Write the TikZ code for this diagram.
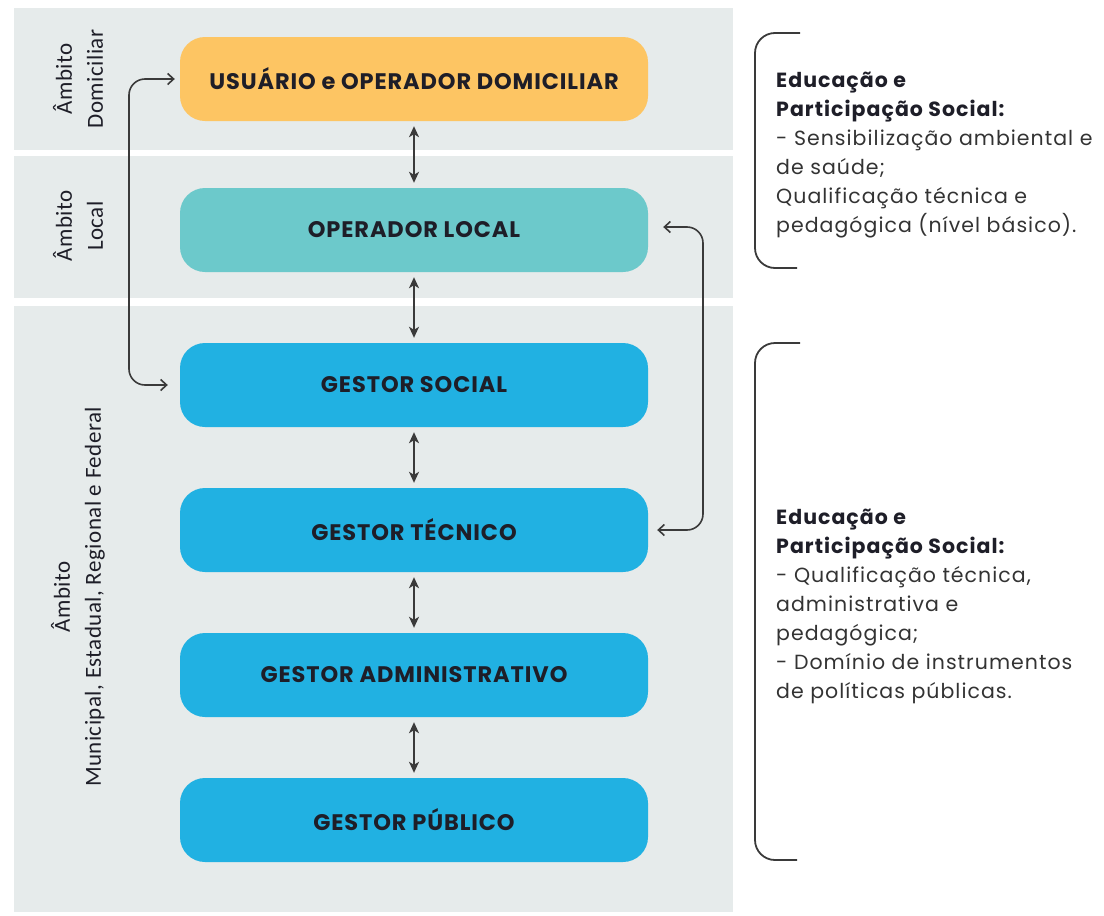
\documentclass[tikz,border=0pt]{standalone}
\usepackage{fontspec}
\setmainfont{Poppins}
\newfontfamily\boxfont[LetterSpace=4]{Poppins}
\newfontfamily\notefont[LetterSpace=5]{Poppins}
\newfontfamily\sidefont[LetterSpace=2]{Carlito}
\usetikzlibrary{arrows.meta,calc}
\definecolor{panel}{HTML}{E6EBEB}
\definecolor{orangebox}{HTML}{FDC563}
\definecolor{tealbox}{HTML}{6CC9CB}
\definecolor{bluebox}{HTML}{21B1E2}
\definecolor{ink}{HTML}{1E1E28}
\definecolor{linec}{HTML}{3A3A3A}
\definecolor{txt}{HTML}{333333}
\tikzset{
  box/.style={rounded corners=25pt, minimum width=468pt, minimum height=84pt, inner sep=0pt,
    font=\boxfont\fontsize{22.5}{26}\selectfont\bfseries, text=ink},
  vlink/.style={draw=linec, line width=1.6pt, {Stealth[length=11pt,width=10pt,inset=3pt]}-{Stealth[length=11pt,width=10pt,inset=3pt]}, shorten <=5pt, shorten >=5pt},
  sidelink/.style={draw=linec, line width=1.6pt, rounded corners=16pt, {Straight Barb[length=6pt,width=11pt]}-{Straight Barb[length=6pt,width=11pt]}},
  brack/.style={draw=linec, line width=1.8pt, rounded corners=20pt},
  sidelabel/.style={rotate=90, align=center, font=\sidefont\fontsize{23}{31}\selectfont, text=ink},
  note/.style={anchor=north west, align=left, inner sep=0pt, text=txt, font=\notefont\fontsize{20.5}{29}\selectfont}
}
\begin{document}
\begin{tikzpicture}[x=1pt,y=-1pt]
\useasboundingbox (0,0) rectangle (1104,916);
% panels
\fill[panel] (14,8) rectangle (733,150);
\fill[panel] (14,156) rectangle (733,298);
\fill[panel] (14,306) rectangle (733,912);
% side labels
\node[sidelabel] (la) at (78,79) {Âmbito\\Domiciliar};
\node[sidelabel] (lb) at (78,226) {Âmbito\\Local};
\node[sidelabel] (lc) at (78,597) {Âmbito\\Municipal, Estadual, Regional e Federal};
% boxes
\node[box, fill=orangebox] (u) at (414,79) {USUÁRIO e OPERADOR DOMICILIAR};
\node[box, fill=tealbox] (ol) at (414,230) {OPERADOR LOCAL};
\node[box, fill=bluebox] (gs) at (414,385) {GESTOR SOCIAL};
\node[box, fill=bluebox] (gt) at (414,530) {GESTOR TÉCNICO};
\node[box, fill=bluebox] (ga) at (414,675) {GESTOR ADMINISTRATIVO};
\node[box, fill=bluebox] (gp) at (414,820) {GESTOR PÚBLICO};
% vertical links
\draw[vlink] (u.south) -- (ol.north);
\draw[vlink] (ol.south) -- (gs.north);
\draw[vlink] (gs.south) -- (gt.north);
\draw[vlink] (gt.south) -- (ga.north);
\draw[vlink] (ga.south) -- (gp.north);
% side connectors
\coordinate (L) at (129,0);
\coordinate (R) at (703,0);
\draw[sidelink] ([xshift=-5pt]u.west) -- (u.west -| L) -- (gs.west -| L) -- ([xshift=-12pt]gs.west);
\draw[sidelink] ([xshift=15pt,yshift=3pt]ol.east) -- ([yshift=3pt]ol.east -| R) -- (gt.east -| R) -- ([xshift=9pt]gt.east);
% brackets
\coordinate (b1t) at (800,33);
\coordinate (b1b) at (797,268);
\coordinate (b2t) at (800,343);
\coordinate (b2b) at (797,860);
\draw[brack] (b1t) -- (755,33) -- (755,268) -- (b1b);
\draw[brack] (b2t) -- (755,343) -- (755,860) -- (b2b);
% notes
\node[note] (n1) at (776,72) {\textbf{\color{ink}Educação e}\\\textbf{\color{ink}Participação Social:}\\- Sensibilização ambiental e\\de saúde;\\Qualificação técnica e\\pedagógica (nível básico).};
\node[note] (n2) at (776,509) {\textbf{\color{ink}Educação e}\\\textbf{\color{ink}Participação Social:}\\- Qualificação técnica,\\administrativa e\\pedagógica;\\- Domínio de instrumentos\\de políticas públicas.};
\end{tikzpicture}
\end{document}
